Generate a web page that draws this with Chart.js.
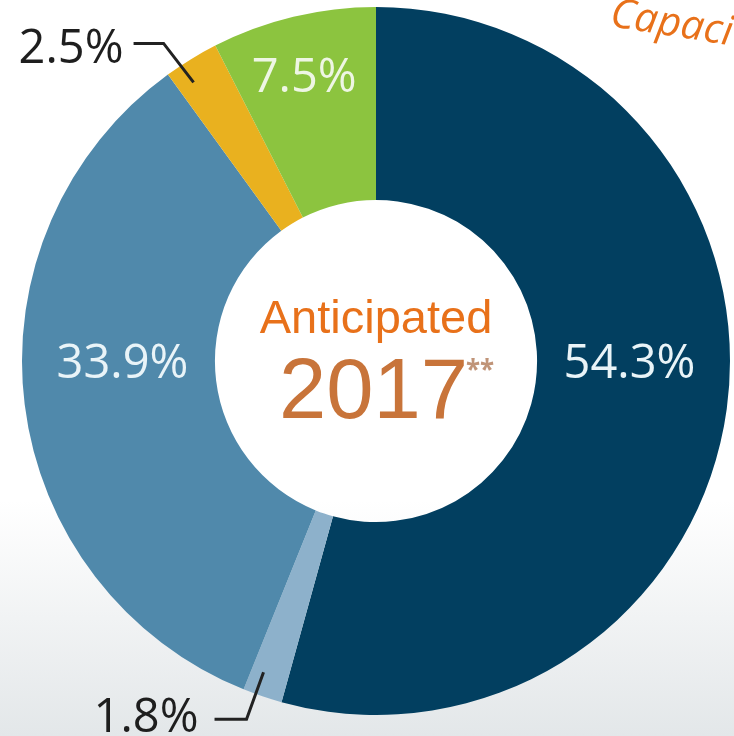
<!DOCTYPE html>
<html>
<head>
<meta charset="utf-8">
<script src="https://cdn.jsdelivr.net/npm/chart.js@4.4.1/dist/chart.umd.min.js"></script>
<style>
  html, body { margin: 0; padding: 0; }
  body {
    width: 734px;
    height: 736px;
    overflow: hidden;
    background: linear-gradient(to bottom, #ffffff 0%, #ffffff 68%, #e3e7e9 100%);
  }
  #wrap { position: relative; width: 734px; height: 736px; }
</style>
</head>
<body>
<div id="wrap"><canvas id="capacityChart"></canvas></div>
<script>
// slices in clockwise order from 12 o'clock
const sliceLabels = ["54.3%", "1.8%", "33.9%", "2.5%", "7.5%"];
const sliceValues = [54.3, 1.8, 33.9, 2.5, 7.5];
const sliceColors = ["#023f60", "#8db1cb", "#5089ab", "#e9b11f", "#8cc43f"];

const centerTitle = "Anticipated";
const centerYear = "2017";
const centerNote = "**";
const cornerText = "Capaci";

// which slices get a label inside the ring, which get a callout line
const insideMode = ["horizontal", "callout", "horizontal", "callout", "radial"];

const sliceLabelPlugin = {
  id: "sliceLabels",
  afterDatasetsDraw(chart) {
    const ctx = chart.ctx;
    const arcs = chart.getDatasetMeta(0).data;
    ctx.save();
    ctx.textBaseline = "middle";

    arcs.forEach((arc, i) => {
      const p = arc.getProps(["x", "y", "startAngle", "endAngle", "innerRadius", "outerRadius"], true);
      const mid = (p.startAngle + p.endAngle) / 2;
      const text = sliceValues[i].toFixed(1) + "%";
      const midR = (p.innerRadius + p.outerRadius) / 2;
      ctx.font = "47px 'Open Sans'";

      if (insideMode[i] === "horizontal") {
        // label sits on the centre line, on the side the slice fills
        const side = Math.cos(mid) >= 0 ? 1 : -1;
        ctx.fillStyle = "#e9f4f8";
        ctx.textAlign = "center";
        ctx.fillText(text, p.x + side * (midR - 4), p.y + 4);
      } else if (insideMode[i] === "radial") {
        const r = p.innerRadius + (p.outerRadius - p.innerRadius) * 0.67;
        ctx.fillStyle = "#eef6e4";
        ctx.textAlign = "center";
        ctx.fillText(text, p.x + r * Math.cos(mid) - 4, p.y + r * Math.sin(mid));
      } else {
        // callout: short line into the slice, elbow, then arm to the text
        const up = Math.sin(mid) < 0;
        const r = p.outerRadius - (up ? 21 : 23);
        const a = mid + (up ? -0.03 : 0.02);
        const ax = p.x + r * Math.cos(a);
        const ay = p.y + r * Math.sin(a);
        const ex = ax + (up ? -30 : -17);
        const ey = ay + (up ? -39 : 47);
        const armEnd = ex - (up ? 30 : 32);
        ctx.strokeStyle = "#222222";
        ctx.lineWidth = 3;
        ctx.beginPath();
        ctx.moveTo(ax, ay);
        ctx.lineTo(ex, ey);
        ctx.lineTo(armEnd, ey);
        ctx.stroke();
        ctx.fillStyle = "#1e1e1e";
        ctx.textAlign = "right";
        ctx.fillText(text, armEnd - (up ? 10 : 16), ey + (up ? 6 : -1));
      }
    });

    // centre text
    const cx = arcs[0].x;
    const cy = arcs[0].y;
    ctx.textAlign = "center";
    ctx.textBaseline = "alphabetic";
    ctx.fillStyle = "#e8711a";
    ctx.font = "47px 'Liberation Sans'";
    ctx.fillText(centerTitle, cx, cy - 28);

    ctx.fillStyle = "#c8743a";
    ctx.font = "85px 'Liberation Sans'";
    ctx.textAlign = "left";
    ctx.fillText(centerYear, cx - 97, cy + 57);
    ctx.fillStyle = "#c09478";
    ctx.font = "bold 26px 'Noto Sans'";
    ctx.fillText(centerNote, cx + 90, cy + 18);

    // cut-off heading at the top right
    ctx.save();
    ctx.translate(609, 26);
    ctx.rotate(9 * Math.PI / 180);
    ctx.fillStyle = "#e8711a";
    ctx.font = "italic 41px 'Open Sans'";
    ctx.textAlign = "left";
    ctx.fillText(cornerText, 0, 0);
    ctx.restore();

    ctx.restore();
  }
};

document.addEventListener("DOMContentLoaded", function () {
  const ctx = document.getElementById("capacityChart");

  new Chart(ctx, {
    type: "doughnut",
    data: {
      labels: sliceLabels,
      datasets: [
        {
          data: sliceValues,
          backgroundColor: sliceColors,
          borderWidth: 0,
        },
      ],
    },
    options: {
      responsive: true,
      maintainAspectRatio: false,
      animation: false,
      cutout: "45.5%",
      layout: {
        padding: { left: 22, right: 4, top: 7, bottom: 21 },
      },
      plugins: {
        legend: { display: false },
        tooltip: { enabled: false },
      },
    },
    plugins: [sliceLabelPlugin],
  });
});
</script>
</body>
</html>
